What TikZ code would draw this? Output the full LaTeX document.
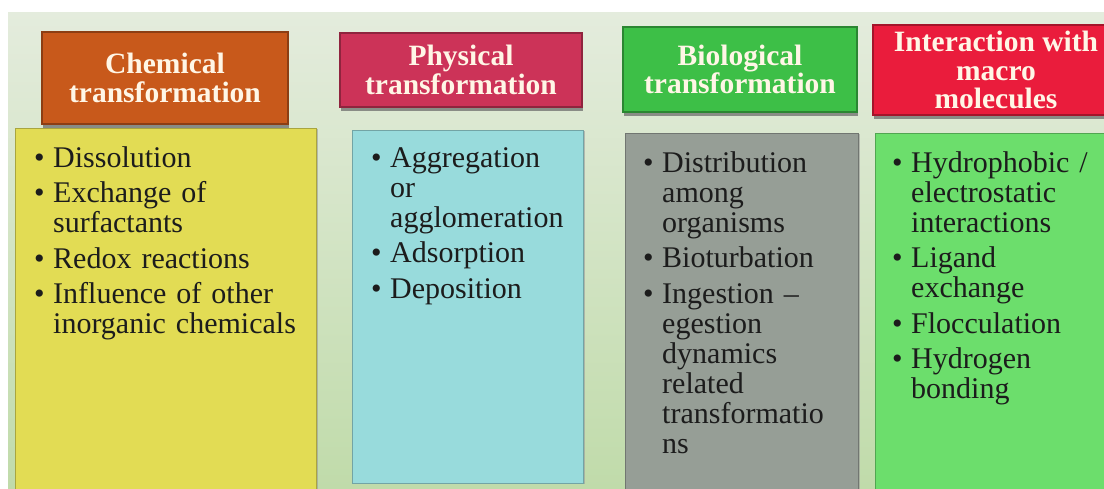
\documentclass[tikz,border=0pt]{standalone}
\usepackage{fontspec}
\setmainfont{Liberation Serif}
\usetikzlibrary{positioning,shadows}

\definecolor{bgtop}{HTML}{E4ECDD}
\definecolor{bgbot}{HTML}{C0DBAA}
\definecolor{chemfill}{HTML}{C8591B}
\definecolor{physfill}{HTML}{CC3358}
\definecolor{biofill}{HTML}{3DBF47}
\definecolor{interfill}{HTML}{EA1C3C}
\definecolor{yellowfill}{HTML}{E2DC54}
\definecolor{cyanfill}{HTML}{98DBDC}
\definecolor{grayfill}{HTML}{969E96}
\definecolor{greenfill}{HTML}{6CDE6C}
\definecolor{headtext}{HTML}{FFF6E6}
\definecolor{bodytext}{HTML}{1C1C1C}

% one bullet point, wrapped lines hang under the text
\newcommand\bitem[1]{\par\hangindent=19pt\hangafter=1\noindent
  \hbox to 19pt{\textbullet\hfil}#1\par\vspace{5.5pt}}

\begin{document}
\begin{tikzpicture}[
  x=1pt, y=-1pt,
  headbox/.style={rectangle, draw=#1!70!black, line width=1.2pt, fill=#1,
    text=headtext, align=center, inner sep=1pt, font=\fontsize{29.5}{28.5}\selectfont\bfseries,
    drop shadow={shadow xshift=0.5pt, shadow yshift=-4pt, fill=black!60, opacity=0.7}},
  bodybox/.style={rectangle, draw=#1!75!black, line width=0.8pt, fill=#1,
    anchor=north west, inner sep=0pt,
    drop shadow={shadow xshift=2pt, shadow yshift=-1pt, fill=black!40, opacity=0.6}},
  items/.style={text width=270pt, inner sep=0pt, text=bodytext,
    font=\fontsize{30}{30}\selectfont},
]
\useasboundingbox (0,0) rectangle (1104,488);
\fill[white] (0,0) rectangle (1104,488);
\shade[top color=bgtop, bottom color=bgbot] (8,12) rectangle (1104,488);

% column heads
\node[headbox=chemfill, minimum width=246pt, minimum height=92pt] (chemhead) at (165,78)
  {Chemical\\transformation};
\node[headbox=physfill, minimum width=242pt, minimum height=74pt] (physhead) at (461,70)
  {Physical\\transformation};
\node[headbox=biofill, minimum width=234pt, minimum height=85pt] (biohead) at (740,69.5)
  {Biological\\transformation};
\node[headbox=interfill, minimum width=246pt, minimum height=90pt] (interhead) at (996,70)
  {Interaction with\\macro\\molecules};

% column bodies
\node[bodybox=yellowfill, minimum width=301pt, minimum height=370pt] (chembody) at (15,128) {};
\node[bodybox=cyanfill, minimum width=231pt, minimum height=353pt] (physbody) at (352,130) {};
\node[bodybox=grayfill, minimum width=233pt, minimum height=365pt] (biobody) at (625,133) {};
\node[bodybox=greenfill, minimum width=240pt, minimum height=365pt] (interbody) at (875,133) {};

\node[items, below right=9pt and 19pt of chembody.north west] (chemitems) {%
  \bitem{Dissolution}
  \bitem{Exchange of\newline surfactants}
  \bitem{Redox reactions}
  \bitem{Influence of other\newline inorganic chemicals}};
\node[items, below right=7pt and 19pt of physbody.north west] (physitems) {%
  \bitem{Aggregation\newline or\newline agglomeration}
  \bitem{Adsorption}
  \bitem{Deposition}};
\node[items, below right=9pt and 18pt of biobody.north west] (bioitems) {%
  \bitem{Distribution\newline among\newline organisms}
  \bitem{Bioturbation}
  \bitem{Ingestion --\newline egestion\newline dynamics\newline related\newline transformatio\newline ns}};
\node[items, below right=9pt and 17pt of interbody.north west] (interitems) {%
  \bitem{Hydrophobic /\newline electrostatic\newline interactions}
  \bitem{Ligand\newline exchange}
  \bitem{Flocculation}
  \bitem{Hydrogen\newline bonding}};
\end{tikzpicture}
\end{document}
